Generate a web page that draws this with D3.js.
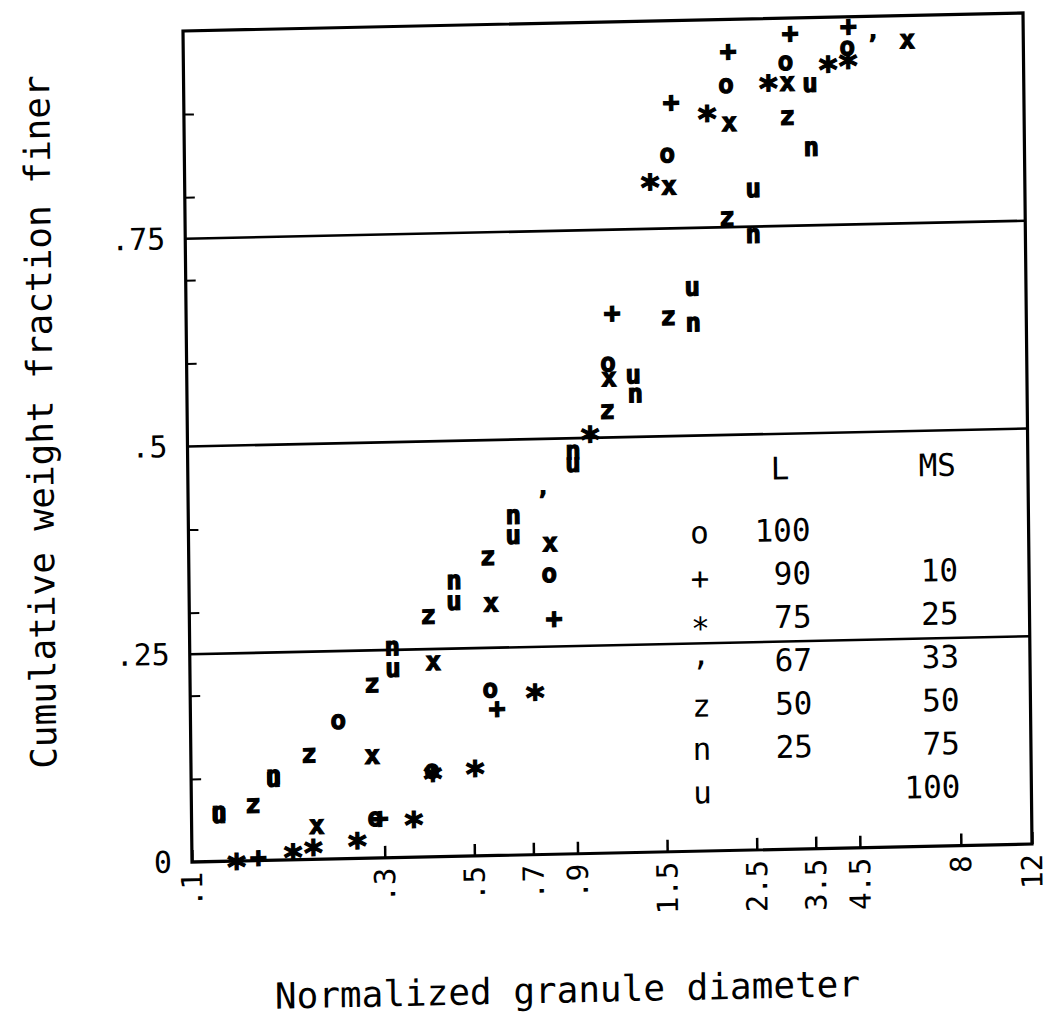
<!DOCTYPE html>
<html><head><meta charset="utf-8">
<script src="https://cdn.jsdelivr.net/npm/d3@7"></script>
<style>body{margin:0;background:#fff}</style>
</head><body>
<svg id="chart" width="1048" height="1034"></svg>
<script>
// ---- axis data ----
const xTickValues = [0.1, 0.3, 0.5, 0.7, 0.9, 1.5, 2.5, 3.5, 4.5, 8, 12];
const xTickLabels = [".1", ".3", ".5", ".7", ".9", "1.5", "2.5", "3.5", "4.5", "8", "12"];
const yLabelValues = [0, 0.25, 0.5, 0.75];
const yTickLabels = ["0", ".25", ".5", ".75"];
const yGridValues = [0.25, 0.5, 0.75];
const yMinorTicks = [0.1, 0.2, 0.3, 0.4, 0.6, 0.7, 0.8, 0.9];

// ---- series data (normalized diameter, cumulative fraction) ----
const oX = [0.232, 0.285, 0.395, 0.553, 0.779, 1.104, 1.566, 2.20, 3.09, 4.40];
const oY = [0.165, 0.047, 0.103, 0.199, 0.336, 0.588, 0.838, 0.920, 0.946, 0.962];
const plusX = [0.146, 0.293, 0.574, 0.799, 1.133, 1.607, 2.23, 3.18, 4.43];
const plusY = [0.004, 0.048, 0.177, 0.284, 0.650, 0.902, 0.962, 0.982, 0.989];
const starX = [0.129, 0.178, 0.200, 0.257, 0.355, 0.397, 0.505, 0.714, 0.993, 1.419, 1.972, 2.80, 3.94, 4.42];
const starY = [0.002, 0.012, 0.017, 0.024, 0.048, 0.103, 0.108, 0.198, 0.507, 0.809, 0.890, 0.925, 0.946, 0.950];
const xX = [0.204, 0.281, 0.400, 0.558, 0.784, 1.109, 1.580, 2.234, 3.12, 6.19];
const xY = [0.039, 0.122, 0.233, 0.302, 0.373, 0.570, 0.799, 0.874, 0.921, 0.969];
const zX = [0.142, 0.196, 0.282, 0.390, 0.550, 1.095, 1.559, 2.195, 3.11];
const zY = [0.066, 0.125, 0.208, 0.289, 0.358, 0.531, 0.642, 0.760, 0.880];
const nX = [0.117, 0.160, 0.317, 0.453, 0.637, 0.899, 1.286, 1.797, 2.544, 3.56];
const nY = [0.058, 0.100, 0.252, 0.330, 0.407, 0.483, 0.550, 0.634, 0.739, 0.842];
const uX = [0.117, 0.160, 0.318, 0.452, 0.636, 0.899, 1.273, 1.791, 2.552, 3.55];
const uY = [0.055, 0.097, 0.226, 0.305, 0.383, 0.468, 0.573, 0.677, 0.794, 0.919];
const tickMarkX = [0.756, 5.10];
const tickMarkY = [0.433, 0.973];

// ---- legend data ----
const legendSymbols = ["o", "+", "*", ",", "z", "n", "u"];
const legendL = ["100", "90", "75", "67", "50", "25", ""];
const legendMS = ["", "10", "25", "33", "50", "75", "100"];

const series = [
  {sym: "o", xs: oX, ys: oY, k: 0.27, fs: 26},
  {sym: "+", xs: plusX, ys: plusY, k: 0.35, fs: 28},
  {sym: "*", xs: starX, ys: starY, k: 0.57, fs: 36},
  {sym: "x", xs: xX, ys: xY, k: 0.27, fs: 26},
  {sym: "z", xs: zX, ys: zY, k: 0.27, fs: 26},
  {sym: "n", xs: nX, ys: nY, k: 0.27, fs: 26},
  {sym: "u", xs: uX, ys: uY, k: 0.27, fs: 26},
  {sym: ",", xs: tickMarkX, ys: tickMarkY, k: 0.0, fs: 22}
];

const FONT = "'DejaVu Sans Mono', monospace";
const W = 840, H = 831;
const svg = d3.select("#chart");
svg.append("rect").attr("width", 1048).attr("height", 1034).attr("fill", "#fff");
// slight skew to follow the scanned original
const g = svg.append("g").attr("transform", `matrix(1,${-18 / 840},${9 / 831},1,183,31)`);

const x = d3.scaleLog().domain([0.1, 12]).range([0, W]);
const y = d3.scaleLinear().domain([0, 1]).range([H, 0]);

// gridlines
g.selectAll("line.grid").data(yGridValues).join("line").attr("class", "grid")
  .attr("x1", 0).attr("x2", W).attr("y1", d => y(d)).attr("y2", d => y(d))
  .attr("stroke", "#000").attr("stroke-width", 2.6);

// frame
g.append("rect").attr("width", W).attr("height", H)
  .attr("fill", "none").attr("stroke", "#000").attr("stroke-width", 3.2);

// x axis
const xAxis = g.append("g").attr("transform", `translate(0,${H})`)
  .call(d3.axisBottom(x).tickValues(xTickValues)
    .tickFormat((d, i) => xTickLabels[i]).tickSizeInner(-12).tickSizeOuter(0));
xAxis.select(".domain").remove();
xAxis.selectAll("line").attr("stroke", "#000").attr("stroke-width", 2.5);
xAxis.selectAll("text")
  .attr("transform", "rotate(-90)").attr("text-anchor", "end")
  .attr("x", -10).attr("y", 0).attr("dy", "0.33em")
  .style("font-family", FONT).style("font-size", "29px").attr("fill", "#000");

// y minor ticks
const yMinor = g.append("g")
  .call(d3.axisLeft(y).tickValues(yMinorTicks).tickFormat("").tickSizeInner(-10).tickSizeOuter(0));
yMinor.select(".domain").remove();
yMinor.selectAll("line").attr("stroke", "#000").attr("stroke-width", 2);

// y labels
const yLab = g.append("g")
  .call(d3.axisLeft(y).tickValues(yLabelValues).tickFormat((d, i) => yTickLabels[i])
    .tickSize(0).tickPadding(20));
yLab.select(".domain").remove();
yLab.selectAll("text").style("font-family", FONT).style("font-size", "30px").attr("fill", "#000");

// axis titles
g.append("text").attr("x", 374).attr("y", 967).attr("text-anchor", "middle")
  .attr("dominant-baseline", "central")
  .style("font-family", FONT).style("font-size", "36px").text("Normalized granule diameter");
g.append("text").attr("transform", "translate(-147,388) rotate(-90)")
  .attr("text-anchor", "middle").attr("dominant-baseline", "central")
  .style("font-family", FONT).style("font-size", "36px").text("Cumulative weight fraction finer");

// markers
series.forEach(s => {
  g.append("g").selectAll("text").data(s.xs.map((v, i) => [v, s.ys[i]])).join("text")
    .attr("x", d => x(d[0])).attr("y", d => y(d[1]) + s.k * s.fs)
    .attr("text-anchor", "middle")
    .attr("stroke", "#000").attr("stroke-width", 1.2).attr("fill", "#000")
    .style("font-family", FONT).style("font-size", s.fs + "px").style("font-weight", "bold")
    .text(s.sym);
});

// legend
const LFS = 31;
const legTop = 515, legStep = 43.3;
const leg = g.append("g").style("font-family", FONT).style("font-size", LFS + "px");
leg.append("text").attr("x", 592).attr("y", 450).attr("text-anchor", "middle")
  .attr("dominant-baseline", "central").text("L");
leg.append("text").attr("x", 768).attr("y", 450).attr("text-anchor", "end")
  .attr("dominant-baseline", "central").text("MS");
const kLeg = {"o": 0.27, "+": 0.35, "*": 0.57, ",": 0.0, "z": 0.27, "n": 0.27, "u": 0.27};
leg.selectAll("text.sym").data(legendSymbols).join("text").attr("class", "sym")
  .attr("x", 511).attr("y", (d, i) => legTop + i * legStep + kLeg[d] * LFS)
  .attr("text-anchor", "middle").text(d => d);
leg.selectAll("text.lv").data(legendL).join("text").attr("class", "lv")
  .attr("x", 622).attr("y", (d, i) => legTop + i * legStep - 3)
  .attr("text-anchor", "end").attr("dominant-baseline", "central").text(d => d);
leg.selectAll("text.msv").data(legendMS).join("text").attr("class", "msv")
  .attr("x", 769).attr("y", (d, i) => legTop + i * legStep - 3)
  .attr("text-anchor", "end").attr("dominant-baseline", "central").text(d => d);
</script>
</body></html>
